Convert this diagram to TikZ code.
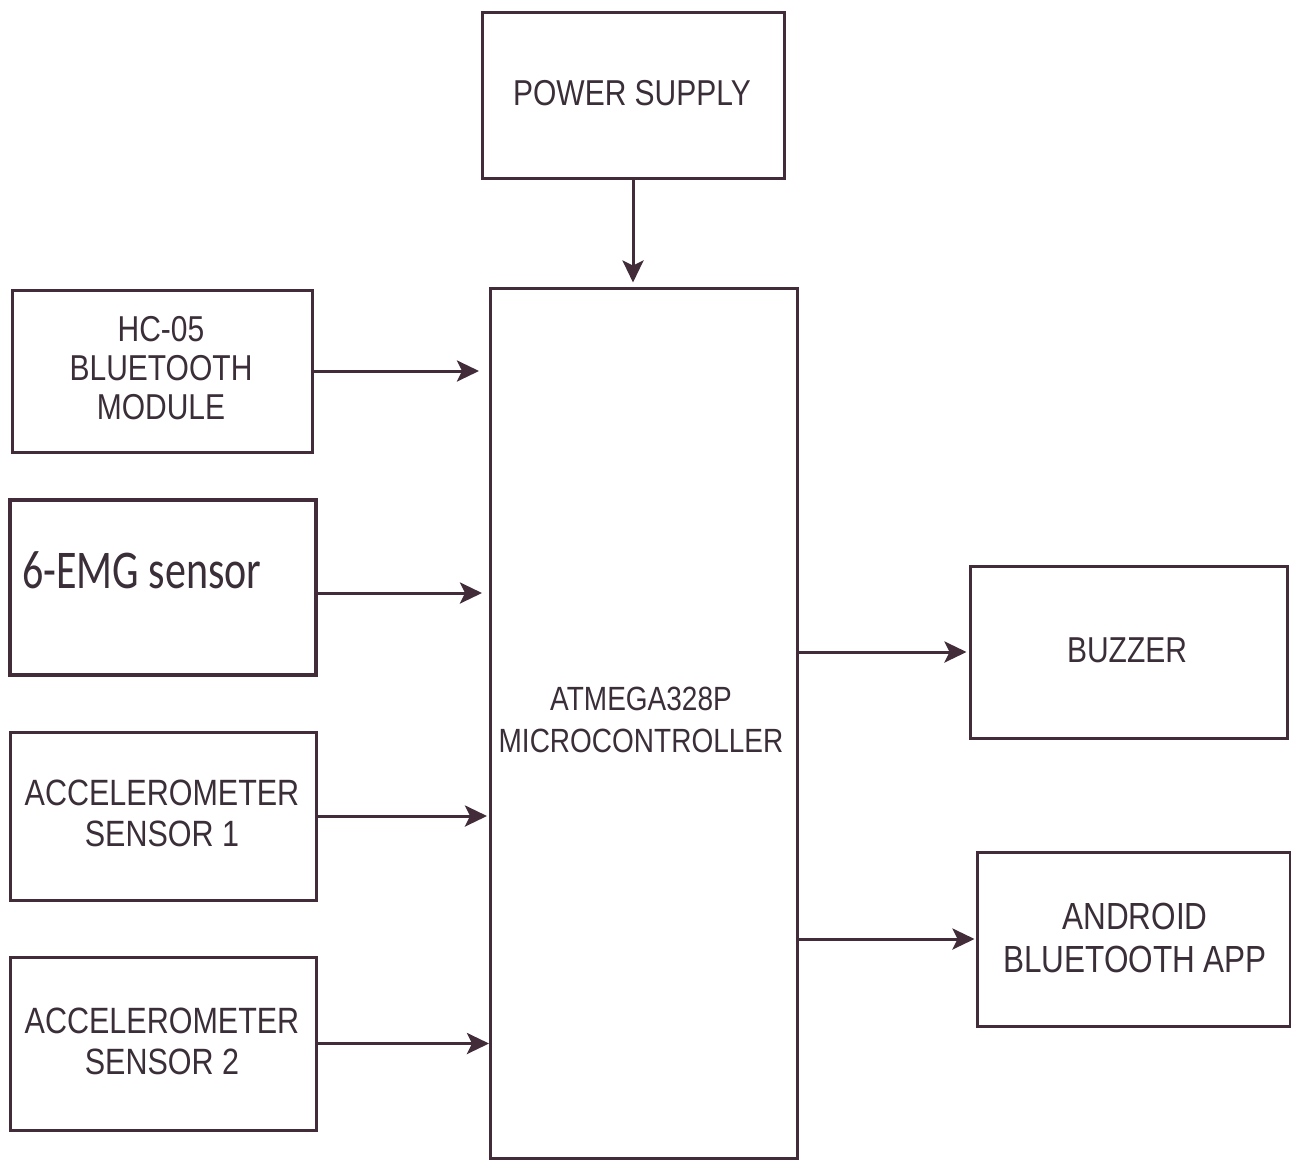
\documentclass[tikz,border=0pt]{standalone}
\usepackage{fontspec}
\setmainfont{Liberation Sans}
\newfontfamily\calib{Carlito}
\usetikzlibrary{arrows.meta}
\definecolor{ink}{RGB}{66,44,58}
\definecolor{txt}{RGB}{58,46,56}
\newcommand\vstretch[2]{\scalebox{1}[#1]{\begin{tabular}{@{}c@{}}#2\end{tabular}}}
\begin{document}
\begin{tikzpicture}[x=1pt,y=-1pt,
  blk/.style={draw=ink, line width=3pt, inner sep=0pt, text=txt, align=center,
    font=\fontsize{30}{32}\selectfont},
  lbl/.style={inner sep=0pt, text=txt, font=\fontsize{30}{32}\selectfont},
  conn/.style={draw=ink, line width=3pt, -{Stealth[length=22pt,width=21pt,inset=5pt]}}]
\fill[white] (0,0) rectangle (1291,1162);
\useasboundingbox (0,0) rectangle (1291,1162);

\node[blk, minimum width=302pt, minimum height=166pt] (power) at (633,95) {};
\node[lbl] (powert) at (632,98) {\vstretch{1.2}{POWER SUPPLY}};

\node[blk, minimum width=300pt, minimum height=162pt] (hc) at (162,371) {};
\node[lbl, font=\fontsize{30}{32.5}\selectfont] (hct) at (161,373) {\vstretch{1.2}{HC-05\\BLUETOOTH\\MODULE}};

\node[blk, line width=4.5pt, minimum width=306pt, minimum height=175pt] (emg) at (163,587.5) {};
\node[inner sep=0pt, anchor=west, text=txt, font=\calib\fontsize{42}{44}\selectfont] (emgt) at (22,570) {\scalebox{1}[1.3]{6-EMG sensor}};

\node[blk, minimum width=306pt, minimum height=168pt] (acc1) at (163,816) {};
\node[lbl, font=\fontsize{30.5}{33.5}\selectfont] (acc1t) at (162,818) {\vstretch{1.2}{ACCELEROMETER\\SENSOR 1}};

\node[blk, minimum width=306pt, minimum height=173pt] (acc2) at (163,1043.5) {};
\node[lbl, font=\fontsize{30.5}{34.5}\selectfont] (acc2t) at (162,1046) {\vstretch{1.2}{ACCELEROMETER\\SENSOR 2}};

\node[blk, minimum width=307pt, minimum height=870pt] (micro) at (644,723) {};
\node[lbl, font=\fontsize{28}{35}\selectfont] (microt) at (641,723) {\vstretch{1.2}{ATMEGA328P\\MICROCONTROLLER}};

\node[blk, minimum width=317pt, minimum height=172pt] (buzz) at (1128.5,652) {};
\node[lbl] (buzzt) at (1127,655) {\vstretch{1.2}{BUZZER}};

\node[blk, minimum width=313pt, minimum height=174pt] (andr) at (1133.5,939) {};
\node[lbl, font=\fontsize{31.5}{36}\selectfont] (andrt) at (1135,942) {\vstretch{1.2}{ANDROID\\BLUETOOTH APP}};

\draw[conn, shorten >=4pt] (power.south) -- (power.south |- micro.north);
\draw[conn, shorten >=10pt] (hc.east) -- (hc.east -| micro.west);
\draw[conn, shorten >=7pt] (emg.east |- 0,593) -- (micro.west |- 0,593);
\draw[conn, shorten >=2pt] (acc1.east) -- (acc1.east -| micro.west);
\draw[conn, shorten >=0pt] (acc2.east) -- (acc2.east -| micro.west);
\draw[conn, shorten >=2pt] (micro.east |- buzz.west) -- (buzz.west);
\draw[conn, shorten >=1pt] (micro.east |- andr.west) -- (andr.west);
\end{tikzpicture}
\end{document}
